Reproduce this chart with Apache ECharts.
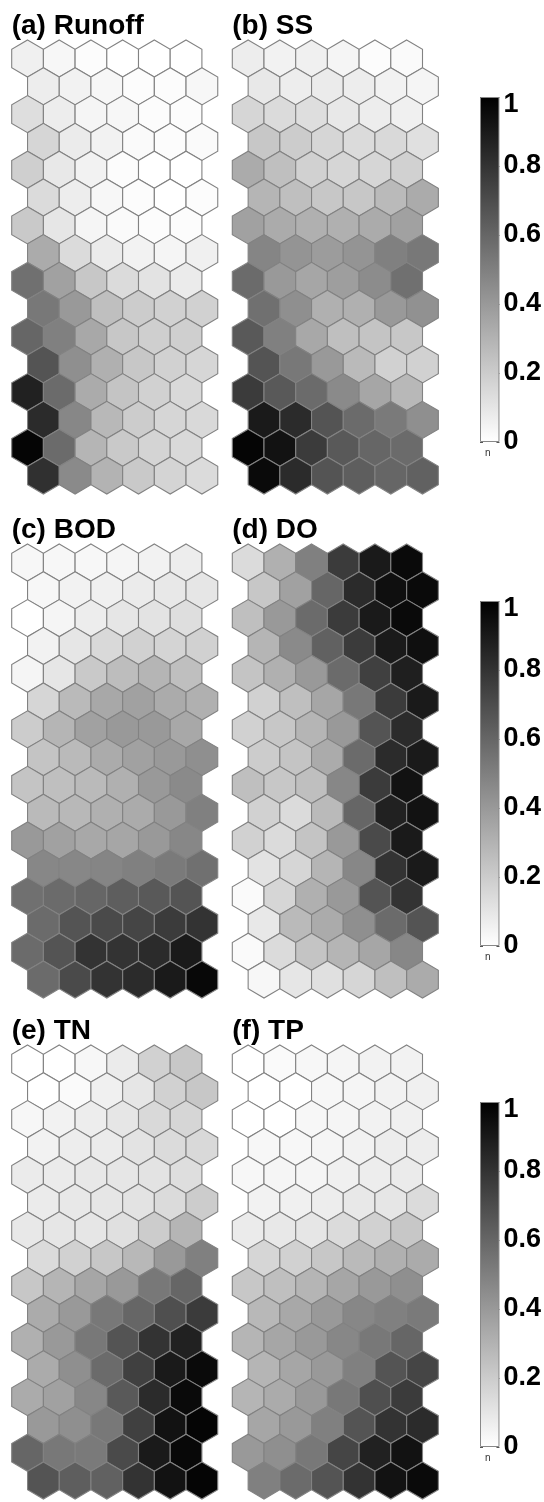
<!DOCTYPE html>
<html>
<head>
<meta charset="utf-8">
<script src="https://cdn.jsdelivr.net/npm/echarts@6/dist/echarts.min.js"></script>
<style>
  html, body { margin: 0; padding: 0; background: #fff; }
  #chart { width: 544px; height: 1502px; }
</style>
</head>
<body>
<div id="chart"></div>
<script>
// SOM component planes, 16 rows x 6 units, values normalised 0..1
const runoff = [
  [0.06, 0.03, 0.01, 0.00, 0.00, 0.00],
  [0.07, 0.05, 0.03, 0.01, 0.01, 0.03],
  [0.13, 0.07, 0.04, 0.03, 0.01, 0.01],
  [0.16, 0.08, 0.05, 0.02, 0.01, 0.02],
  [0.19, 0.09, 0.05, 0.01, 0.00, 0.00],
  [0.14, 0.07, 0.03, 0.01, 0.00, 0.01],
  [0.21, 0.10, 0.04, 0.02, 0.01, 0.01],
  [0.33, 0.14, 0.08, 0.05, 0.04, 0.06],
  [0.56, 0.37, 0.22, 0.14, 0.11, 0.08],
  [0.53, 0.40, 0.25, 0.20, 0.18, 0.18],
  [0.60, 0.50, 0.34, 0.22, 0.19, 0.19],
  [0.67, 0.44, 0.31, 0.22, 0.18, 0.16],
  [0.87, 0.58, 0.33, 0.23, 0.18, 0.15],
  [0.83, 0.47, 0.28, 0.20, 0.16, 0.15],
  [0.98, 0.58, 0.29, 0.21, 0.17, 0.15],
  [0.81, 0.46, 0.30, 0.21, 0.17, 0.14]
];
const ss = [
  [0.07, 0.05, 0.06, 0.04, 0.01, 0.02],
  [0.09, 0.07, 0.08, 0.07, 0.05, 0.04],
  [0.16, 0.14, 0.13, 0.09, 0.07, 0.06],
  [0.22, 0.20, 0.16, 0.14, 0.15, 0.12],
  [0.33, 0.25, 0.18, 0.16, 0.16, 0.18],
  [0.29, 0.25, 0.22, 0.22, 0.27, 0.33],
  [0.37, 0.33, 0.31, 0.31, 0.33, 0.37],
  [0.48, 0.42, 0.39, 0.42, 0.50, 0.53],
  [0.58, 0.40, 0.35, 0.38, 0.45, 0.56],
  [0.56, 0.44, 0.31, 0.31, 0.40, 0.43],
  [0.65, 0.50, 0.34, 0.25, 0.23, 0.22],
  [0.67, 0.53, 0.40, 0.27, 0.18, 0.18],
  [0.77, 0.65, 0.58, 0.46, 0.35, 0.28],
  [0.90, 0.83, 0.67, 0.58, 0.52, 0.44],
  [0.98, 0.93, 0.77, 0.65, 0.60, 0.58],
  [0.96, 0.83, 0.67, 0.63, 0.60, 0.62]
];
const bod = [
  [0.03, 0.03, 0.03, 0.04, 0.05, 0.07],
  [0.03, 0.05, 0.06, 0.08, 0.09, 0.10],
  [0.00, 0.04, 0.07, 0.10, 0.11, 0.13],
  [0.05, 0.10, 0.15, 0.18, 0.17, 0.18],
  [0.04, 0.10, 0.21, 0.26, 0.29, 0.25],
  [0.16, 0.27, 0.34, 0.37, 0.33, 0.31],
  [0.20, 0.29, 0.37, 0.40, 0.40, 0.34],
  [0.23, 0.27, 0.33, 0.37, 0.40, 0.44],
  [0.23, 0.25, 0.27, 0.31, 0.40, 0.46],
  [0.27, 0.28, 0.31, 0.33, 0.40, 0.50],
  [0.40, 0.37, 0.34, 0.35, 0.40, 0.47],
  [0.47, 0.47, 0.48, 0.50, 0.52, 0.56],
  [0.56, 0.58, 0.60, 0.63, 0.65, 0.67],
  [0.58, 0.67, 0.71, 0.73, 0.77, 0.80],
  [0.58, 0.67, 0.80, 0.80, 0.83, 0.90],
  [0.58, 0.71, 0.80, 0.83, 0.90, 0.97]
];
const dissolvedO = [
  [0.14, 0.31, 0.50, 0.77, 0.90, 0.96],
  [0.22, 0.37, 0.60, 0.83, 0.94, 0.96],
  [0.25, 0.40, 0.58, 0.77, 0.90, 0.96],
  [0.29, 0.46, 0.62, 0.77, 0.90, 0.94],
  [0.23, 0.31, 0.40, 0.58, 0.75, 0.88],
  [0.18, 0.25, 0.35, 0.53, 0.77, 0.90],
  [0.18, 0.22, 0.29, 0.40, 0.67, 0.83],
  [0.20, 0.23, 0.33, 0.58, 0.83, 0.90],
  [0.25, 0.22, 0.25, 0.47, 0.77, 0.93],
  [0.18, 0.14, 0.27, 0.60, 0.87, 0.93],
  [0.18, 0.14, 0.23, 0.40, 0.71, 0.90],
  [0.11, 0.16, 0.29, 0.47, 0.80, 0.90],
  [0.02, 0.16, 0.31, 0.40, 0.67, 0.80],
  [0.09, 0.27, 0.33, 0.44, 0.58, 0.67],
  [0.02, 0.14, 0.23, 0.29, 0.35, 0.47],
  [0.03, 0.10, 0.12, 0.16, 0.25, 0.33]
];
const tn = [
  [0.00, 0.00, 0.03, 0.08, 0.18, 0.22],
  [0.00, 0.02, 0.06, 0.10, 0.18, 0.22],
  [0.03, 0.05, 0.07, 0.10, 0.15, 0.16],
  [0.05, 0.07, 0.08, 0.11, 0.14, 0.15],
  [0.08, 0.08, 0.09, 0.10, 0.11, 0.13],
  [0.08, 0.09, 0.10, 0.11, 0.14, 0.20],
  [0.09, 0.10, 0.10, 0.12, 0.20, 0.29],
  [0.14, 0.18, 0.22, 0.28, 0.40, 0.50],
  [0.22, 0.29, 0.35, 0.40, 0.53, 0.60],
  [0.33, 0.40, 0.53, 0.60, 0.69, 0.77],
  [0.31, 0.40, 0.53, 0.67, 0.80, 0.87],
  [0.33, 0.44, 0.58, 0.75, 0.90, 0.96],
  [0.33, 0.37, 0.47, 0.65, 0.83, 0.96],
  [0.40, 0.44, 0.53, 0.75, 0.93, 0.98],
  [0.60, 0.53, 0.52, 0.71, 0.90, 0.97],
  [0.67, 0.63, 0.62, 0.80, 0.93, 0.98]
];
const tp = [
  [0.00, 0.02, 0.03, 0.04, 0.05, 0.05],
  [0.00, 0.00, 0.03, 0.04, 0.05, 0.06],
  [0.00, 0.00, 0.03, 0.04, 0.05, 0.06],
  [0.03, 0.03, 0.04, 0.05, 0.07, 0.07],
  [0.03, 0.04, 0.04, 0.06, 0.07, 0.08],
  [0.05, 0.06, 0.07, 0.09, 0.10, 0.14],
  [0.08, 0.09, 0.10, 0.14, 0.18, 0.22],
  [0.16, 0.18, 0.22, 0.27, 0.31, 0.33],
  [0.22, 0.25, 0.29, 0.35, 0.40, 0.44],
  [0.28, 0.34, 0.40, 0.47, 0.50, 0.52],
  [0.29, 0.35, 0.40, 0.47, 0.53, 0.60],
  [0.29, 0.35, 0.40, 0.50, 0.67, 0.73],
  [0.29, 0.33, 0.40, 0.53, 0.69, 0.77],
  [0.35, 0.40, 0.50, 0.67, 0.80, 0.83],
  [0.40, 0.44, 0.53, 0.73, 0.87, 0.93],
  [0.50, 0.58, 0.67, 0.80, 0.93, 0.96]
];
const planes = [runoff, ss, bod, dissolvedO, tn, tp];
const titles = ['(a) Runoff', '(b) SS', '(c) BOD', '(d) DO', '(e) TN', '(f) TP'];
const barTicks = [0, 0.2, 0.4, 0.6, 0.8, 1];

// layout (px)
const hexW = 31.7, rowP = 27.8;
const nRows = 16, nCols = 6;
const panelLeft = [11.7, 232.3];
const panelTop = [40, 544, 1045];
const yMax = nRows - 1 + 4 / 3;
const font = 'Liberation Sans, Arial, Helvetica, sans-serif';

const chart = echarts.init(document.getElementById('chart'), null, { renderer: 'canvas' });

const grid = [], xAxis = [], yAxis = [], series = [], title = [], graphic = [];

planes.forEach((plane, i) => {
  const left = panelLeft[i % 2], top = panelTop[Math.floor(i / 2)];
  grid.push({ left: left, top: top, width: (nCols + 0.5) * hexW, height: yMax * rowP });
  xAxis.push({ type: 'value', gridIndex: i, min: 0, max: nCols + 0.5, show: false });
  yAxis.push({ type: 'value', gridIndex: i, min: 0, max: yMax, inverse: true, show: false });
  const data = [];
  plane.forEach((row, r) => {
    row.forEach((v, c) => {
      data.push([c + 0.5 + (r % 2) * 0.5, r + 2 / 3, v]);
    });
  });
  series.push({
    type: 'custom',
    xAxisIndex: i,
    yAxisIndex: i,
    data: data,
    encode: { x: 0, y: 1 },
    renderItem: function (params, api) {
      const c = api.coord([api.value(0), api.value(1)]);
      const s = api.size([1, 1]);
      const hw = Math.abs(s[0]) / 2, py = Math.abs(s[1]);
      const t = py * 2 / 3, q = py / 3;
      return {
        type: 'polygon',
        shape: {
          points: [
            [c[0], c[1] - t], [c[0] + hw, c[1] - q], [c[0] + hw, c[1] + q],
            [c[0], c[1] + t], [c[0] - hw, c[1] + q], [c[0] - hw, c[1] - q]
          ]
        },
        style: { fill: api.visual('color'), stroke: '#828282', lineWidth: 1.1 }
      };
    }
  });
  title.push({
    text: titles[i],
    left: left,
    top: top - 28,
    padding: 0,
    textStyle: { fontSize: 28, fontWeight: 'bold', color: '#000', fontFamily: font }
  });
});

// colour bars
const labelStyle = { color: '#000', fontSize: 27, fontWeight: 'bold', fontFamily: font };
panelTop.forEach((top, k) => {
  const gi = 6 + k;
  grid.push({ left: 480, top: top + 57, width: 22, height: 345 });
  xAxis.push({ type: 'category', gridIndex: gi, data: ['n'], show: false });
  yAxis.push({
    type: 'value', gridIndex: gi, min: 0, max: 1, interval: 0.2, position: 'right',
    axisLine: { show: false }, splitLine: { show: false },
    axisTick: { show: true, inside: true, length: 3, lineStyle: { color: '#555' } },
    axisLabel: Object.assign({
      margin: 4,
      formatter: v => (v === 1 ? '{one|1}' : String(+v.toFixed(1))),
      rich: { one: Object.assign({ padding: [16, 0, 0, 0] }, labelStyle) }
    }, labelStyle)
  });
  yAxis.push({
    type: 'value', gridIndex: gi, min: 0, max: 1, interval: 0.2, position: 'left',
    axisLine: { show: false }, splitLine: { show: false }, axisLabel: { show: false },
    axisTick: { show: true, inside: true, length: 3, lineStyle: { color: '#555' } }
  });
  series.push({
    type: 'bar',
    xAxisIndex: 6 + k,
    yAxisIndex: 6 + 2 * k,
    data: [barTicks[barTicks.length - 1]],
    barWidth: '100%',
    silent: true,
    itemStyle: {
      color: new echarts.graphic.LinearGradient(0, 0, 0, 1, [
        { offset: 0, color: '#000000' },
        { offset: 1, color: '#ffffff' }
      ]),
      borderColor: '#888',
      borderWidth: 1
    }
  });
  graphic.push({
    type: 'text', left: 485, top: top + 57 + 345 + 6,
    style: { text: 'n', fontSize: 10, fill: '#333', fontFamily: font }
  });
});

chart.setOption({
  animation: false,
  backgroundColor: '#fff',
  title: title,
  grid: grid,
  xAxis: xAxis,
  yAxis: yAxis,
  visualMap: {
    type: 'continuous',
    show: false,
    min: 0,
    max: 1,
    dimension: 2,
    seriesIndex: [0, 1, 2, 3, 4, 5],
    inRange: { color: ['#ffffff', '#000000'] }
  },
  graphic: graphic,
  series: series
});
</script>
</body>
</html>
